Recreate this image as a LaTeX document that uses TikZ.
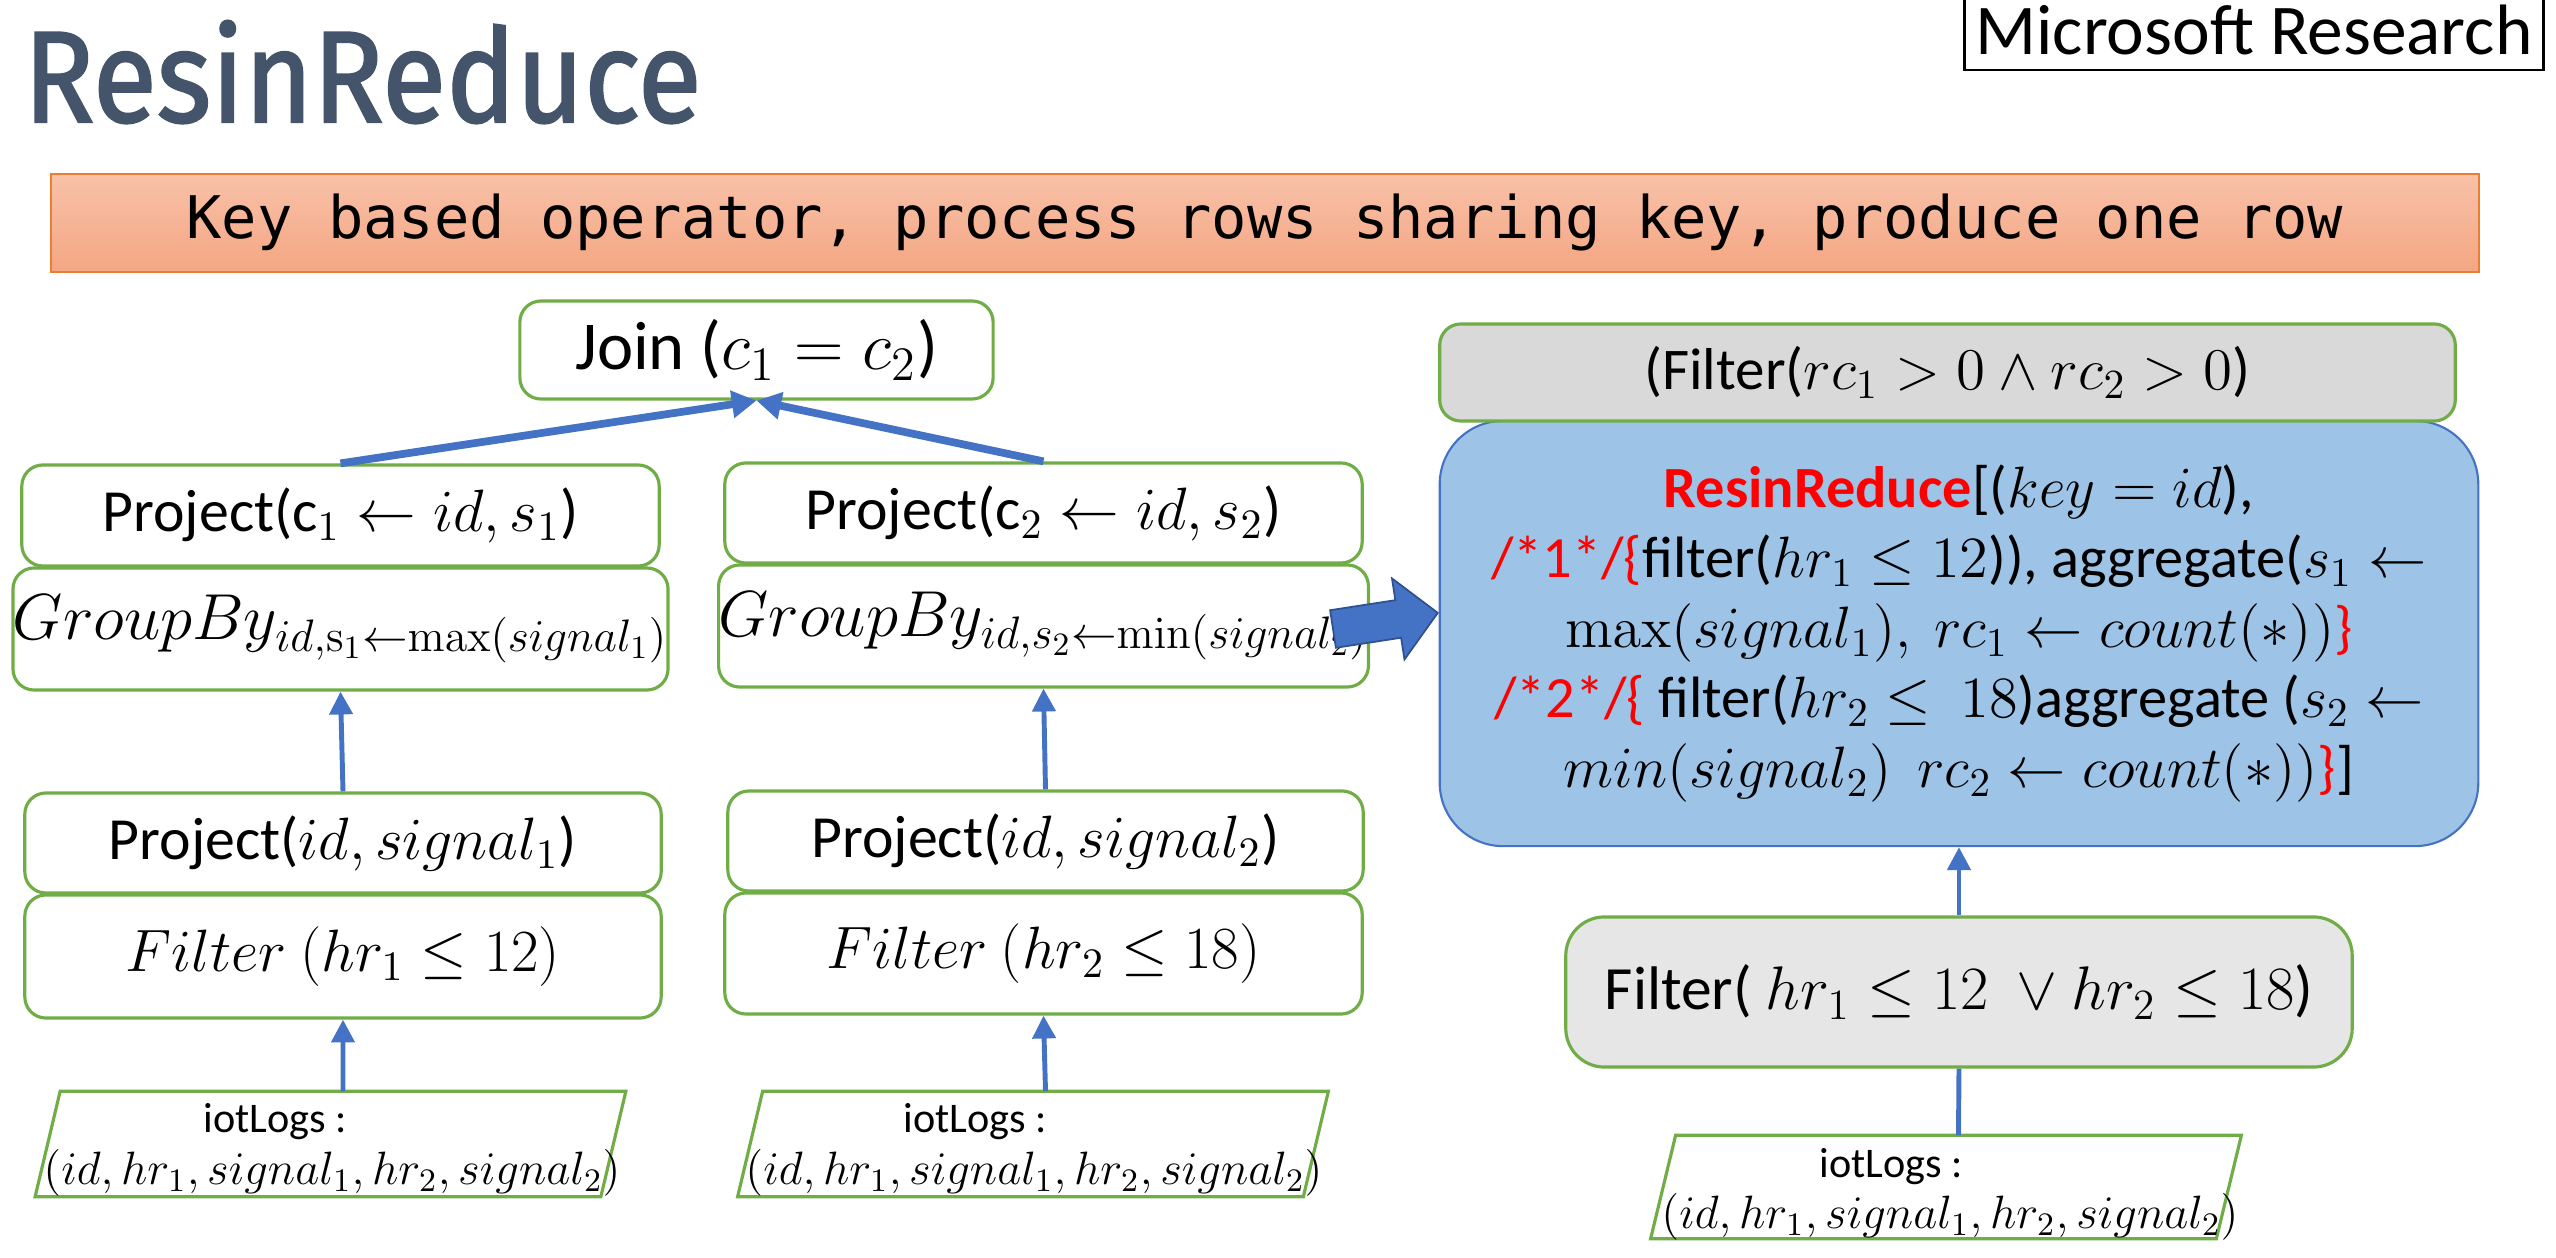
\RequirePackage{fix-cm}
\documentclass[tikz,border=0pt]{standalone}
\usepackage[no-math]{fontspec}
\setmainfont{Carlito}
\newfontfamily\titlefont[FakeBold=1.6]{Fira Sans}
\newfontfamily\bannerfont{DejaVu Sans Mono}
\usetikzlibrary{arrows.meta}

\definecolor{boxgreen}{HTML}{70AD47}
\definecolor{flowblue}{HTML}{4472C4}
\definecolor{flowbluedark}{HTML}{2F528F}
\definecolor{reducefill}{HTML}{9DC3E6}
\definecolor{grayA}{HTML}{D9D9D9}
\definecolor{grayB}{HTML}{E7E6E6}
\definecolor{titleslate}{HTML}{44546A}
\definecolor{bannertop}{RGB}{248,193,168}
\definecolor{bannerbot}{RGB}{244,166,131}
\definecolor{bannerline}{HTML}{ED7D31}
\definecolor{hot}{HTML}{FF0000}

\begin{document}
\begin{tikzpicture}[x=0.01cm,y=-0.01cm,
  opbox/.style={draw=boxgreen, line width=0.9pt, rounded corners=6pt, fill=white,
    inner sep=0pt, align=center, font=\fontsize{17}{20}\selectfont},
  groupbox/.style={opbox, font=\fontsize{18.5}{21}\selectfont},
  logspot/.style={inner sep=0pt, minimum width=5.64cm},
  logline/.style={draw=boxgreen, line width=0.9pt, fill=white},
  logtext/.style={inner sep=0pt, font=\fontsize{12}{14}\selectfont},
  logcols/.style={inner sep=0pt, font=\fontsize{13.3}{16}\selectfont},
  flowarrow/.style={draw=flowblue, line width=1.4pt, -{Triangle[length=6.5pt,width=6.5pt]}},
  flowline/.style={draw=flowblue, line width=1.4pt},
  joinarrow/.style={draw=flowblue, line width=2.2pt, -{Triangle[length=7pt,width=7.5pt]}},
  reducebox/.style={draw=flowblue, line width=0.6pt, fill=reducefill, rounded corners=18pt,
    inner sep=0pt, align=center, font=\fontsize{16.6}{19.9}\selectfont}
]
\useasboundingbox (0,0) rectangle (2556,1258);

% heading and brand
\node[anchor=base west, inner sep=0pt, text=titleslate,
  font=\titlefont\fontsize{37}{40}\selectfont] (title) at (23,122)
  {\scalebox{0.9}[1]{ResinReduce}};
\node[draw=black, line width=0.8pt, minimum width=5.78cm, minimum height=0.8cm,
  inner sep=0pt, font=\fontsize{20.3}{22}\selectfont] (brand) at (2254,30) {Microsoft Research};

% banner
\node[draw=bannerline, line width=0.6pt, top color=bannertop, bottom color=bannerbot,
  minimum width=24.26cm, minimum height=0.98cm, inner sep=0pt,
  font=\bannerfont\fontsize{16.7}{20}\selectfont] (banner) at (1265,223)
  {Key based operator, process rows sharing key, produce one row};

% left plan: join of two grouped branches
\node[opbox, minimum width=4.73cm, minimum height=0.98cm, font=\fontsize{19.5}{22}\selectfont]
  (join) at (756.5,350) {Join ($c_1 = c_2$)};

\node[opbox, minimum width=6.37cm, minimum height=1.01cm] (proj1) at (340.5,515.5)
  {Project(c$_1 \leftarrow id, s_1$)};
\node[groupbox, minimum width=6.37cm, minimum height=1.22cm]
  (grp1) at (340.5,629) {$GroupBy_{id,\mathrm{s}_1\leftarrow\max(signal_1)}$};
\node[opbox, minimum width=6.36cm, minimum height=1.00cm] (projA) at (343,843)
  {Project($id, signal_1$)};
\node[opbox, minimum width=6.36cm, minimum height=1.23cm] (filt1) at (343,956.5)
  {$Filter\ (hr_1 \le 12)$};

\node[opbox, minimum width=6.37cm, minimum height=1.00cm] (proj2) at (1043.5,513)
  {Project(c$_2 \leftarrow id, s_2$)};
\node[groupbox, minimum width=6.37cm, minimum height=1.22cm]
  (grp2) at (1043.5,626) {$GroupBy_{id,s_2\leftarrow\min(signal_2)}$};
\node[opbox, minimum width=6.35cm, minimum height=1.00cm] (projB) at (1045.5,841)
  {Project($id, signal_2$)};
\node[opbox, minimum width=6.37cm, minimum height=1.21cm] (filt2) at (1043.5,953.5)
  {$Filter\ (hr_2 \le 18)$};

% input tables (parallelograms)
\node[logspot, minimum height=1.04cm] (log1) at (330.5,1144) {};
\draw[logline] ([xshift=-1.25mm]log1.south west) -- ([xshift=-1.25mm]log1.south east)
  -- ([xshift=1.25mm]log1.north east) -- ([xshift=1.25mm]log1.north west) -- cycle;
\node[logtext] (log1name) at (275,1122) {iotLogs :};
\node[logcols] (log1cols) at (332,1173) {$(id, hr_1, signal_1, hr_2, signal_2)$};

\node[logspot, minimum height=1.04cm] (log2) at (1033,1144) {};
\draw[logline] ([xshift=-1.25mm]log2.south west) -- ([xshift=-1.25mm]log2.south east)
  -- ([xshift=1.25mm]log2.north east) -- ([xshift=1.25mm]log2.north west) -- cycle;
\node[logtext] (log2name) at (975,1122) {iotLogs :};
\node[logcols] (log2cols) at (1034,1173) {$(id, hr_1, signal_1, hr_2, signal_2)$};

% left plan connectors
\draw[flowarrow] ([xshift=1.25mm]log1.north) -- (filt1.south);
\draw[flowarrow] ([xshift=1.25mm]log2.north) -- (filt2.south);
\draw[flowarrow] (projA.north) -- (grp1.south);
\draw[flowarrow] (projB.north) -- (grp2.south);
\draw[joinarrow] (proj1.north) -- (join.south);
\draw[joinarrow] (proj2.north) -- (join.south);

% right plan: single ResinReduce operator
\node[reducebox, minimum width=10.38cm, minimum height=4.25cm] (reduce) at (1959,633.5)
  {{\color{hot}\bfseries ResinReduce}[($key = id$),\\
   {\color{hot}/*1*/\{}filter($hr_1 \le 12$)), aggregate($s_1 \leftarrow$\\
   $\max(signal_1),\ rc_1 \leftarrow count(*))${\color{hot}\}}\\
   {\color{hot}/*2*/\{} filter($hr_2 \le\ 18$)aggregate ($s_2 \leftarrow$\\
   $min(signal_2)\ \ rc_2 \leftarrow count(*))${\color{hot}\}}]};
\node[opbox, fill=grayA, minimum width=10.15cm, minimum height=0.97cm,
  font=\fontsize{16.8}{19}\selectfont] (post) at (1947.5,372.5)
  {(Filter($rc_1 > 0 \wedge rc_2 > 0$)};
\node[opbox, fill=grayB, rounded corners=11pt, minimum width=7.86cm, minimum height=1.50cm,
  font=\fontsize{17.5}{21}\selectfont] (pre) at (1959,992)
  {Filter( $hr_1 \le 12\ \vee hr_2 \le 18$)};

\node[logspot, minimum height=1.02cm] (log3) at (1946,1187) {};
\draw[logline] ([xshift=-1.25mm]log3.south west) -- ([xshift=-1.25mm]log3.south east)
  -- ([xshift=1.25mm]log3.north east) -- ([xshift=1.25mm]log3.north west) -- cycle;
\node[logtext] (log3name) at (1891,1167) {iotLogs :};
\node[logcols] (log3cols) at (1950,1217) {$(id, hr_1, signal_1, hr_2, signal_2)$};

\draw[flowline] ([xshift=1.25mm]log3.north) -- (pre.south);
\draw[flowarrow] (pre.north) -- (reduce.south);

% block arrow from the left plan to the rewritten plan
\begin{scope}[shift={(1333,629)}, rotate=8.75]
  \filldraw[fill=flowblue, draw=flowbluedark, line width=0.5pt]
    (0,-19) -- (66,-19) -- (66,-41) -- (106,0) -- (66,41) -- (66,19) -- (0,19) -- cycle;
\end{scope}
\end{tikzpicture}
\end{document}
